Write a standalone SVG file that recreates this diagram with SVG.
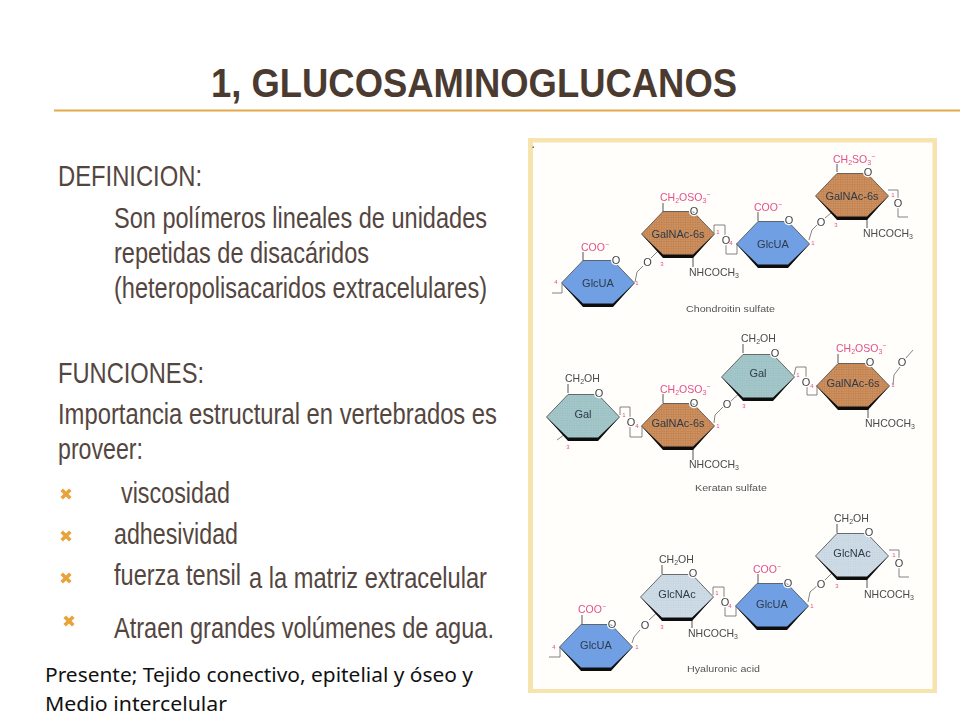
<svg xmlns="http://www.w3.org/2000/svg" xmlns:xlink="http://www.w3.org/1999/xlink" width="960" height="720" viewBox="0 0 960 720">
<style>
.t{font-family:"Liberation Sans",Arial,sans-serif;font-size:29px;fill:#54463f}
.title{font-family:"Liberation Sans",Arial,sans-serif;font-size:41px;font-weight:bold;fill:#4b3a30}
.p{font-family:"Noto Sans",sans-serif;font-size:19px;fill:#111}
.bul{fill:none;stroke:#e8a33d;stroke-width:3.6}
.l{font-family:"Liberation Sans",Arial,sans-serif;font-size:10.5px;fill:#4a4a4a}
.pk{fill:#e2508a}
.n{font-family:"Liberation Sans",Arial,sans-serif;font-size:11px;fill:#2f3a4a;text-anchor:middle}
.num{font-family:"Liberation Sans",Arial,sans-serif;font-size:6px;fill:#e2508a;text-anchor:middle}
.o{font-family:"Liberation Sans",Arial,sans-serif;font-size:11px;fill:#444;text-anchor:middle;stroke:#fff;stroke-width:2.5;paint-order:stroke}
.cap{font-family:"Liberation Sans",Arial,sans-serif;font-size:9.5px;fill:#555}
.c{fill:none;stroke:#777;stroke-width:.9}
.s{fill:none;stroke:#555;stroke-width:1}
.brown{fill:url(#pb)}
.blue{fill:#6f9fe3}
.gal{fill:url(#pg)}
.nac{fill:url(#pn)}
</style>
<defs>
<pattern id="pb" width="2.4" height="2.4" patternUnits="userSpaceOnUse"><rect width="2.4" height="2.4" fill="#cf9362"/><path d="M0 .5H2.4M.5 0V2.4" stroke="#b97a47" stroke-width=".5"/></pattern>
<pattern id="pg" width="2.4" height="2.4" patternUnits="userSpaceOnUse"><rect width="2.4" height="2.4" fill="#a3c6c9"/><circle cx="1" cy="1" r=".5" fill="#8fb5ba"/></pattern>
<pattern id="pn" width="2.4" height="2.4" patternUnits="userSpaceOnUse"><rect width="2.4" height="2.4" fill="#cddbe6"/><circle cx="1" cy="1" r=".5" fill="#b9cbd9"/></pattern>
<g id="hex">
<path d="M-36.500 0L-15-22.500H15L36.500 0L15 22.500H-15Z" stroke="#4a4a4a" stroke-width=".8"/>
<path d="M-36.500 0L-15 20.500H15L36.500 0L15 24H-15Z" fill="#111"/>
</g>
<path id="x" d="M-4.300-4.300L4.300 4.300M4.300-4.300L-4.300 4.300"/>
<filter id="soft" x="0" y="0" width="1" height="1"><feGaussianBlur stdDeviation=".35"/></filter>
</defs>
<rect width="960" height="720" fill="#fff"/>
<text class="title" x="211" y="97" textLength="526" lengthAdjust="spacingAndGlyphs">1, GLUCOSAMINOGLUCANOS</text>
<path d="M54 110.500H960" stroke="#e5a84b" stroke-width="2" fill="none"/>

<g id="text-body">
<text class="t" x="58" y="186" textLength="144" lengthAdjust="spacingAndGlyphs">DEFINICION:</text>
<text class="t" x="114" y="228" textLength="373" lengthAdjust="spacingAndGlyphs">Son polímeros lineales de unidades</text>
<text class="t" x="114" y="263" textLength="255" lengthAdjust="spacingAndGlyphs">repetidas de disacáridos</text>
<text class="t" x="114" y="298" textLength="373" lengthAdjust="spacingAndGlyphs">(heteropolisacaridos extracelulares)</text>
<text class="t" x="58" y="383" textLength="146" lengthAdjust="spacingAndGlyphs">FUNCIONES:</text>
<text class="t" x="58" y="424" textLength="439" lengthAdjust="spacingAndGlyphs">Importancia estructural en vertebrados es</text>
<text class="t" x="58" y="459" textLength="85" lengthAdjust="spacingAndGlyphs">proveer:</text>
<text class="t" x="121" y="503" textLength="109" lengthAdjust="spacingAndGlyphs">viscosidad</text>
<text class="t" x="114" y="544" textLength="124" lengthAdjust="spacingAndGlyphs">adhesividad</text>
<text class="t" x="114" y="585" textLength="127" lengthAdjust="spacingAndGlyphs">fuerza tensil</text>
<text class="t" x="249" y="588" textLength="238" lengthAdjust="spacingAndGlyphs">a la matriz extracelular</text>
<text class="t" x="114" y="638" textLength="380" lengthAdjust="spacingAndGlyphs">Atraen grandes volúmenes de agua.</text>
<text class="p" x="45" y="682" textLength="428" lengthAdjust="spacingAndGlyphs">Presente; Tejido conectivo, epitelial y óseo y</text>
<text class="p" x="45" y="711" textLength="182" lengthAdjust="spacingAndGlyphs">Medio intercelular</text>
</g>
<g id="bullets" class="bul">
<use xlink:href="#x" href="#x" x="66" y="494"/>
<use xlink:href="#x" href="#x" x="66" y="536"/>
<use xlink:href="#x" href="#x" x="66" y="578"/>
<use xlink:href="#x" href="#x" x="69" y="621"/>
</g>

<g id="figure" filter="url(#soft)">
<rect x="528" y="138" width="409" height="555" fill="#f6e3ae"/>
<rect x="533" y="142.500" width="399.500" height="546.500" fill="#fffefb"/>
<rect x="532.500" y="146.500" width="1.500" height="1.500" fill="#666"/>

<g id="connectors">
<path class="c" d="M552 293H562V284M635 282L637 272L643 266M651 258L662 247L664 257M714 233V225H725V235M726 245V254H737V243M809 240L812 230L817 225M825 218L837 208V219M888 190H898V199M898 208V217H908"/>
<path class="c" d="M620 415V407H630V418M630 427V437H642V426M557 440L568 432L569 440M714 423L715 415L723 407M731 401L743 390V400M794 375L796 367H806V377M807 387V395H817V385M893 385L894 375L900 367M906 358L913 350"/>
<path class="c" d="M549 657H560V647M632 643L634 637L640 630M649 620L662 608L663 619M713 595V587H724V597M725 607V616H736V606M808 602L810 592L817 586M825 580L837 568V579M889 550H899V559M899 568V577H909"/>
<path class="s" d="M583 261V252M663 212V203M758 221V212M837 172V164M693 257V267M867 208V228M663 247V257M837 208V219"/>
<path class="s" d="M568 393V384M663 403V394M693 449V460M663 437V449M743 353V344M838 363V354M868 409V418M868 399V409M838 399V409"/>
<path class="s" d="M582 624V615M662 574V565M692 619V628M758 583V574M837 533V524M867 568V588"/>
</g>

<g id="link-labels">
<text class="o" x="647.500" y="266">O</text><text class="o" x="726" y="244">O</text><text class="num" x="731" y="245">4</text><text class="o" x="821" y="226">O</text><text class="o" x="898" y="207">O</text>
<text class="o" x="631" y="426">O</text><text class="num" x="637" y="428">4</text><text class="o" x="727" y="408">O</text><text class="o" x="806" y="386">O</text><text class="num" x="812" y="388">4</text><text class="o" x="902" y="366">O</text>
<text class="o" x="645" y="629">O</text><text class="o" x="725" y="606">O</text><text class="o" x="821" y="588">O</text><text class="o" x="899" y="567">O</text>
</g>

<g id="n1"><use xlink:href="#hex" href="#hex" x="598" y="283" class="blue"/><text class="n" x="598" y="287">GlcUA</text>
<text class="l pk" x="581" y="251">COO<tspan font-size="7" dy="-4">−</tspan></text><text class="o" x="616" y="264">O</text>
<text class="num" x="556" y="284">4</text><text class="num" x="637" y="285">1</text></g>
<g id="n2"><use xlink:href="#hex" href="#hex" x="678" y="234" class="brown"/><text class="n" x="678" y="238">GalNAc-6s</text>
<text class="l pk" x="660" y="201">CH<tspan font-size="7" dy="2">2</tspan><tspan dy="-2">OSO</tspan><tspan font-size="7" dy="2">3</tspan><tspan font-size="7" dy="-6">−</tspan></text><text class="o" x="694" y="215">O</text>
<text class="l" x="689" y="276">NHCOCH<tspan font-size="7" dy="2">3</tspan></text>
<text class="num" x="662" y="266">3</text><text class="num" x="718" y="234">1</text></g>
<g id="n3"><use xlink:href="#hex" href="#hex" x="773" y="244" class="blue"/><text class="n" x="773" y="248">GlcUA</text>
<text class="l pk" x="754" y="211">COO<tspan font-size="7" dy="-4">−</tspan></text><text class="o" x="789" y="224">O</text>
<text class="num" x="813" y="245">1</text></g>
<g id="n4"><use xlink:href="#hex" href="#hex" x="852" y="196" class="brown"/><text class="n" x="852" y="200">GalNAc-6s</text>
<text class="l pk" x="833" y="163">CH<tspan font-size="7" dy="2">2</tspan><tspan dy="-2">SO</tspan><tspan font-size="7" dy="2">3</tspan><tspan font-size="7" dy="-6">−</tspan></text><text class="o" x="868" y="176">O</text>
<text class="l" x="863" y="237">NHCOCH<tspan font-size="7" dy="2">3</tspan></text>
<text class="num" x="836" y="227">3</text><text class="num" x="893" y="197">1</text></g>
<text class="cap" x="686" y="312" textLength="89" lengthAdjust="spacingAndGlyphs">Chondroitin sulfate</text>

<g id="n5"><use xlink:href="#hex" href="#hex" x="583" y="417" class="gal"/><text class="n" x="583" y="418">Gal</text>
<text class="l" x="565" y="382">CH<tspan font-size="7" dy="2">2</tspan><tspan dy="-2">OH</tspan></text><text class="o" x="599" y="397">O</text>
<text class="num" x="568" y="449">3</text><text class="num" x="624" y="417">1</text></g>
<g id="n6"><use xlink:href="#hex" href="#hex" x="678" y="426" class="brown"/><text class="n" x="678" y="427">GalNAc-6s</text>
<text class="l pk" x="660" y="393">CH<tspan font-size="7" dy="2">2</tspan><tspan dy="-2">OSO</tspan><tspan font-size="7" dy="2">3</tspan><tspan font-size="7" dy="-6">−</tspan></text><text class="o" x="694" y="407">O</text>
<text class="l" x="689" y="468">NHCOCH<tspan font-size="7" dy="2">3</tspan></text>
<text class="num" x="718" y="428">1</text></g>
<g id="n7"><use xlink:href="#hex" href="#hex" x="758" y="377" class="gal"/><text class="n" x="758" y="377">Gal</text>
<text class="l" x="741" y="342">CH<tspan font-size="7" dy="2">2</tspan><tspan dy="-2">OH</tspan></text><text class="o" x="775" y="357">O</text>
<text class="num" x="744" y="408">3</text><text class="num" x="798" y="377">1</text></g>
<g id="n8"><use xlink:href="#hex" href="#hex" x="853" y="386" class="brown"/><text class="n" x="853" y="387">GalNAc-6s</text>
<text class="l pk" x="836" y="352">CH<tspan font-size="7" dy="2">2</tspan><tspan dy="-2">OSO</tspan><tspan font-size="7" dy="2">3</tspan><tspan font-size="7" dy="-6">−</tspan></text><text class="o" x="870" y="366">O</text>
<text class="l" x="865" y="427">NHCOCH<tspan font-size="7" dy="2">3</tspan></text>
<text class="num" x="893" y="387">1</text></g>
<text class="cap" x="695" y="491" textLength="72" lengthAdjust="spacingAndGlyphs">Keratan sulfate</text>

<g id="n9"><use xlink:href="#hex" href="#hex" x="596" y="647" class="blue"/><text class="n" x="596" y="649">GlcUA</text>
<text class="l pk" x="578" y="613">COO<tspan font-size="7" dy="-4">−</tspan></text><text class="o" x="612" y="628">O</text>
<text class="num" x="554" y="649">4</text><text class="num" x="637" y="649">1</text></g>
<g id="n10"><use xlink:href="#hex" href="#hex" x="677" y="597" class="nac"/><text class="n" x="677" y="598">GlcNAc</text>
<text class="l" x="659" y="563">CH<tspan font-size="7" dy="2">2</tspan><tspan dy="-2">OH</tspan></text><text class="o" x="693" y="577">O</text>
<text class="l" x="688" y="637">NHCOCH<tspan font-size="7" dy="2">3</tspan></text>
<text class="num" x="662" y="629">3</text><text class="num" x="717" y="595">1</text></g>
<g id="n11"><use xlink:href="#hex" href="#hex" x="772" y="606" class="blue"/><text class="n" x="772" y="608">GlcUA</text>
<text class="l pk" x="753" y="573">COO<tspan font-size="7" dy="-4">−</tspan></text><text class="o" x="788" y="587">O</text>
<text class="num" x="730" y="608">4</text><text class="num" x="812" y="608">1</text></g>
<g id="n12"><use xlink:href="#hex" href="#hex" x="852" y="556" class="nac"/><text class="n" x="852" y="557">GlcNAc</text>
<text class="l" x="834" y="522">CH<tspan font-size="7" dy="2">2</tspan><tspan dy="-2">OH</tspan></text><text class="o" x="869" y="536">O</text>
<text class="l" x="864" y="598">NHCOCH<tspan font-size="7" dy="2">3</tspan></text>
<text class="num" x="837" y="588">3</text><text class="num" x="894" y="557">1</text></g>
<text class="cap" x="687" y="672" textLength="73" lengthAdjust="spacingAndGlyphs">Hyaluronic acid</text>
</g>
</svg>
